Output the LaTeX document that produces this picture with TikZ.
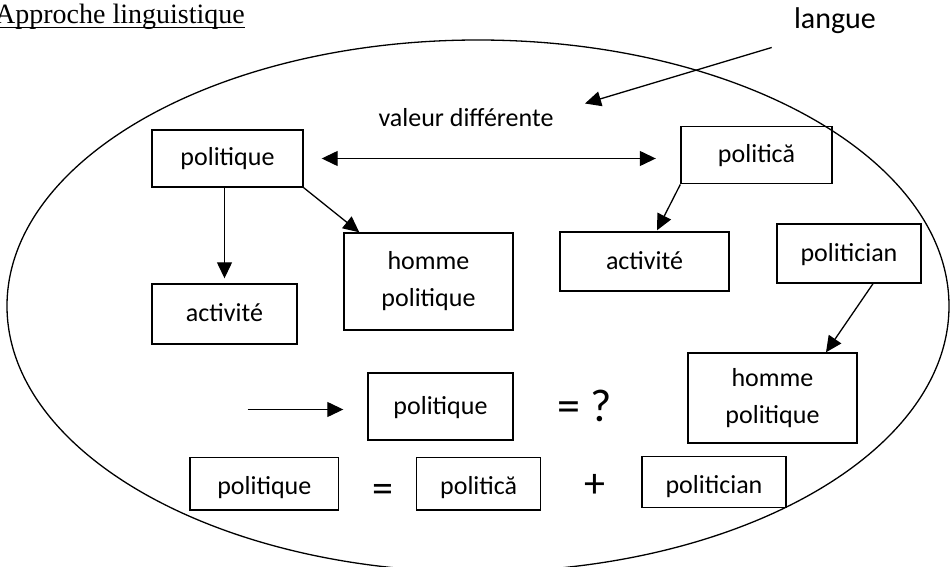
\documentclass[tikz,border=0pt]{standalone}
\usepackage{fontspec}
\setmainfont{Carlito}
\newfontfamily\titlefont{Liberation Serif}
\usetikzlibrary{arrows.meta,calc}

\newcommand\boxfont{\fontsize{26}{37}\selectfont}
\tikzset{
  box/.style={draw, line width=1.4pt, inner sep=0pt, align=center, font=\boxfont},
  onebox/.style={box, text height=20pt, text depth=5pt},
  lowbox/.style={box, text height=27pt, text depth=5pt},
  arr/.style={line width=1.3pt, -{Triangle[length=16pt,width=15pt]}},
  arrboth/.style={line width=1.3pt, {Triangle[length=16pt,width=15pt]}-{Triangle[length=16pt,width=15pt]}},
  label/.style={inner sep=0pt, font=\boxfont},
  bigsign/.style={inner sep=0pt, font=\fontsize{42}{46}\selectfont},
}

\begin{document}
\begin{tikzpicture}[x=1pt,y=-1pt]
\useasboundingbox (0,0) rectangle (951,567);

% the set of the language
\draw[line width=1.3pt] (478,306) ellipse [x radius=471, y radius=266];

% heading
\node[anchor=base east, inner sep=0pt, font=\titlefont\fontsize{28}{30}\selectfont] (title) at (245,23.5) {Approche linguistique};
\draw[line width=1.2pt] ([yshift=-4pt]title.base west) -- ([yshift=-4pt]title.base east);

% labels
\node[anchor=base, inner sep=0pt, font=\fontsize{30}{34}\selectfont] (langue) at (835,28.3) {langue};
\node[anchor=base, label] (valeur) at (466,127) {valeur différente};

% upper boxes
\node[onebox, minimum width=151pt, minimum height=57pt] (pol1) at (227.5,158.5) {politique};
\node[onebox, minimum width=151pt, minimum height=57pt] (pol2) at (756.5,155.3) {politică};
\node[onebox, minimum width=145pt, minimum height=60pt] (act1) at (224.5,314) {activité};
\node[box, minimum width=169pt, minimum height=97pt] (hp1) at (428.5,281.5) {homme\\politique};
\node[onebox, minimum width=169pt, minimum height=59pt] (act2) at (644.5,261.5) {activité};
\node[onebox, minimum width=144pt, minimum height=59pt] (pcn1) at (849,253.5) {politician};
\node[box, minimum width=169pt, minimum height=90pt] (hp2) at (772.5,398) {homme\\politique};

% middle line
\node[onebox, minimum width=145pt, minimum height=67pt] (pol3) at (440.5,406.5) {politique};
\node[anchor=base, inner sep=0pt, font=\fontsize{46}{50}\selectfont] (eqq) at (585,421.5) {= ?};
\coordinate (leadin) at (247.5,409.5);

% bottom line
\node[lowbox, minimum width=148.5pt, minimum height=52.5pt] (pol4) at (264.3,483.8) {politique};
\node[bigsign] (eq) at (382.5,493) {=};
\node[lowbox, minimum width=124pt, minimum height=52.5pt] (pol5) at (478.7,483.8) {politică};
\node[bigsign] (plus) at (594.5,486) {+};
\node[lowbox, minimum width=144pt, minimum height=51pt] (pcn2) at (714,482) {politician};

% connectors
\coordinate (langstart) at (771.7,47.5);
\coordinate (langtip) at (585,103.5);
\draw[arr] (langstart) -- (langtip);
\draw[arrboth] ([xshift=18pt]pol1.east) -- ([xshift=-24.5pt]pol1.east -| pol2.west);
\draw[arr] (act1.north |- pol1.south) -- ([yshift=5pt]act1.north);
\draw[arr] (pol1.south east) -- ([xshift=16pt]hp1.north west);
\draw[arr] (pol2.south west) -- ([xshift=12.5pt,yshift=1pt]act2.north);
\draw[arr] ([xshift=24pt]pcn1.south) -- ([xshift=53.5pt]hp2.north);
\draw[arr, shorten >=24pt] (leadin) -- (leadin -| pol3.west);
\end{tikzpicture}
\end{document}
